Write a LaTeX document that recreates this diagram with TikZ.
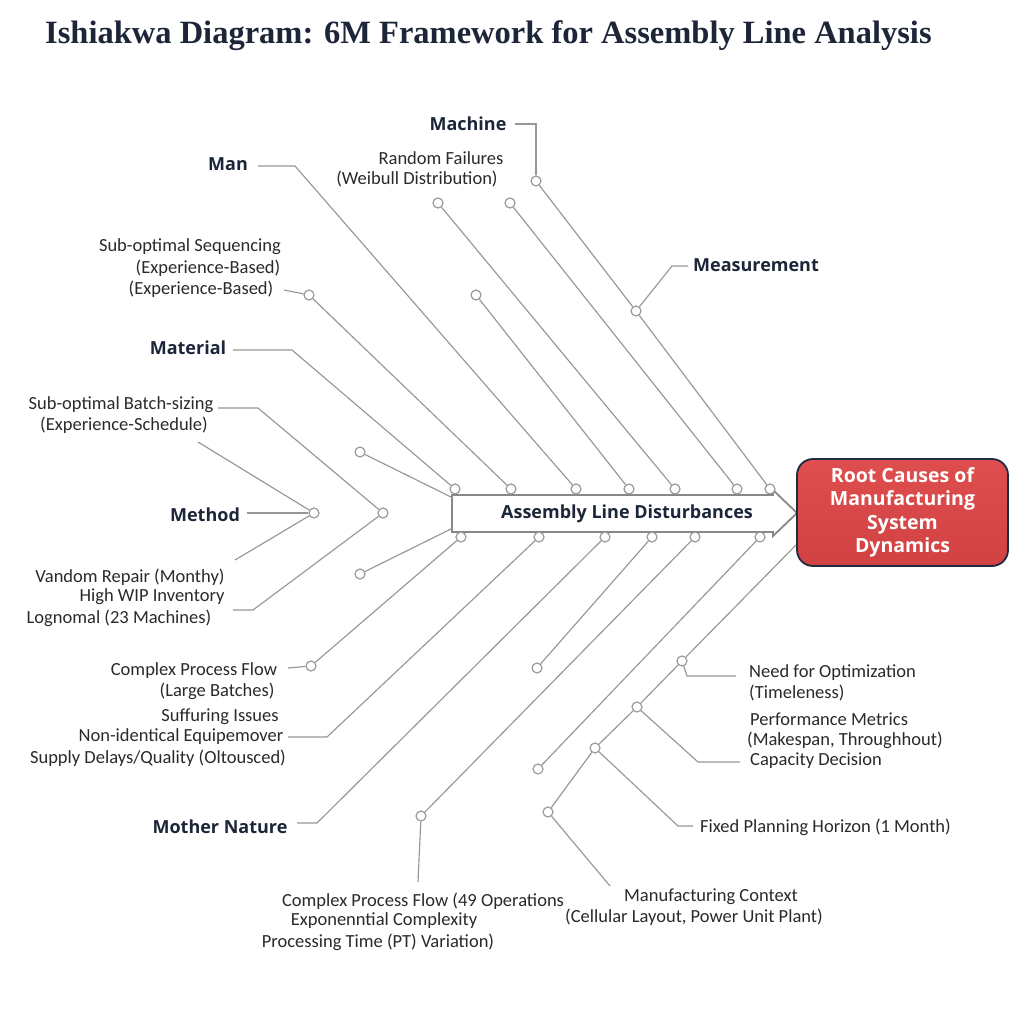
\documentclass[tikz,border=0pt]{standalone}
\usepackage{fontspec}
\setmainfont{Carlito}
\newfontfamily\catf{Open Sans}
\newfontfamily\titlef{Liberation Serif}
\definecolor{navy}{HTML}{1C2638}
\definecolor{lg}{HTML}{979797}
\definecolor{tx}{HTML}{2A2A2A}
\definecolor{redA}{HTML}{DE4E4E}
\definecolor{redB}{HTML}{D24242}
\definecolor{hborder}{HTML}{1E2B45}
\tikzset{
  ln/.style={draw=lg, line width=1.15pt},
  dot/.style={circle, draw=lg, fill=white, line width=1.15pt, inner sep=0pt, minimum size=10pt},
  cat/.style={font=\catf\bfseries\fontsize{18}{21}\selectfont, text=navy, inner sep=0pt},
  sm/.style={font=\fontsize{18.5}{22}\selectfont, text=tx, inner sep=0pt},
  headbox/.style={draw=hborder, line width=1.8pt, rounded corners=16pt, top color=redA, bottom color=redB,
     minimum width=211pt, minimum height=107pt, align=center, text=white,
     font=\catf\bfseries\fontsize{19.5}{23.5}\selectfont, inner sep=0pt},
}
\begin{document}
\begin{tikzpicture}[x=1pt,y=-1pt]
\useasboundingbox[fill=white] (0,0) rectangle (1024,1024);

% title
\node[anchor=west, inner sep=0pt, text=navy, font=\titlef\bfseries\fontsize{32.5}{38}\selectfont] (title) at (45,36) {Ishiakwa Diagram: 6M Framework for Assembly Line Analysis};

% spine arrow
\coordinate (spTL) at (453,498);
\coordinate (spBL) at (453,528);
\coordinate (tip) at (797,513);
\draw[draw=lg!90!black, line width=1.8pt, fill=white, line join=miter]
  (452,495) -- (773,495) -- (773,490) -- (tip) -- (773,536) -- (773,532) -- (452,532) -- cycle;
\node[cat] (spine) at (627,514) {Assembly Line Disturbances};

% head
\node[headbox] (head) at (902.5,512.5) {Root Causes of\\Manufacturing\\System\\Dynamics};

% dots on spine
\foreach \n/\x in {t1/455,t2/511,t3/576,t4/629,t5/675,t6/737,t7/770}
  \node[dot] (\n) at (\x,489) {};
\foreach \n/\x in {b1/461,b2/539,b3/605,b4/652,b5/695,b6/760}
  \node[dot] (\n) at (\x,537) {};

% other dots
\node[dot] (mach) at (536,181) {};
\node[dot] (meas) at (636,311) {};
\node[dot] (u1) at (438,203) {};
\node[dot] (u2) at (510,203) {};
\node[dot] (u3) at (476,295) {};
\node[dot] (seq) at (309,295) {};
\node[dot] (meth) at (314,513) {};
\node[dot] (lv) at (383,513) {};
\node[dot] (lu) at (360,452) {};
\node[dot] (ld) at (360,574) {};
\node[dot] (cpf) at (311,666) {};
\node[dot] (free1) at (537,668) {};
\node[dot] (free2) at (538,769) {};
\node[dot] (c49) at (421,816) {};
\node[dot] (r1) at (682,661) {};
\node[dot] (r2) at (637,707) {};
\node[dot] (r3) at (595,748) {};
\node[dot] (r4) at (548,812) {};

% category labels
\node[cat] (man) at (228,164) {Man};
\node[cat] (machine) at (468,124) {Machine};
\node[cat] (measurement) at (756,265) {Measurement};
\node[cat] (material) at (188,348) {Material};
\node[cat] (method) at (205,515) {Method};
\node[cat] (mother) at (220,827) {Mother Nature};

% small texts
\node[sm] (s1) at (190,247) {Sub-optimal Sequencing};
\node[sm] (s2) at (208,268) {(Experience-Based)};
\node[sm] (s3) at (201,289) {(Experience-Based)};
\node[sm] (rf1) at (441,158) {Random Failures};
\node[sm] (rf2) at (417,179) {(Weibull Distribution)};
\node[sm] (bs1) at (121,405) {Sub-optimal Batch-sizing};
\node[sm] (bs2) at (124,425) {(Experience-Schedule)};
\node[sm] (v1) at (130,577) {Vandom Repair (Monthy)};
\node[sm] (v2) at (152,597) {High WIP Inventory};
\node[sm] (v3) at (119,618) {Lognomal (23 Machines)};
\node[sm] (cp1) at (194,671) {Complex Process Flow};
\node[sm] (cp2) at (217,691) {(Large Batches)};
\node[sm] (sf1) at (220,717) {Suffuring Issues};
\node[sm] (sf2) at (181,737) {Non-identical Equipemover};
\node[sm] (sf3) at (158,758) {Supply Delays/Quality (Oltousced)};
\node[sm] (e1) at (423,901) {Complex Process Flow (49 Operations};
\node[sm] (e2) at (384,921) {Exponenntial Complexity};
\node[sm] (e3) at (378,942) {Processing Time (PT) Variation)};
\node[sm] (mc1) at (711,897) {Manufacturing Context};
\node[sm] (mc2) at (694,917) {(Cellular Layout, Power Unit Plant)};
\node[sm, anchor=west] (n1) at (749,673) {Need for Optimization};
\node[sm, anchor=west] (n2) at (749,693) {(Timeleness)};
\node[sm, anchor=west] (p1) at (750,719) {Performance Metrics};
\node[sm, anchor=west] (p2) at (747,740) {(Makespan, Throughhout)};
\node[sm, anchor=west] (p3) at (750,761) {Capacity Decision};
\node[sm, anchor=west] (fp) at (700,827) {Fixed Planning Horizon (1 Month)};

% connector coordinates
\coordinate (manA) at (258,166);  \coordinate (manB) at (295,166);
\coordinate (machA) at (515,124); \coordinate (machB) at (536,124);
\coordinate (measA) at (688,266); \coordinate (measB) at (672,266);
\coordinate (seqA) at (284,290);
\coordinate (matA) at (233,350);  \coordinate (matB) at (292,350);
\coordinate (batA) at (218,408);  \coordinate (batB) at (258,408);
\coordinate (vA) at (233,610);    \coordinate (vB) at (253,610);
\coordinate (methA) at (247,513);
\coordinate (mU) at (198,442);    \coordinate (mD) at (235,560);
\coordinate (cpfA) at (288,668);
\coordinate (sufA) at (288,737);  \coordinate (sufB) at (327,737);
\coordinate (monA) at (297,823);  \coordinate (monB) at (317,823);
\coordinate (c49A) at (418,882);
\coordinate (chS) at (796,545);
\coordinate (r4A) at (610,886);
\coordinate (r1A) at (687,676);   \coordinate (r1B) at (736,676);
\coordinate (r2A) at (698,762);   \coordinate (r2B) at (740,762);
\coordinate (r3A) at (678,826);   \coordinate (r3B) at (693,826);

% connectors (upper)
\draw[ln] (manA) -- (manB) -- (t3);
\draw[ln] (machA) -- (machB) -- (mach);
\draw[ln] (mach) -- (meas);
\draw[ln] (meas) -- (t7);
\draw[ln] (measA) -- (measB) -- (meas);
\draw[ln] (u1) -- (t5);
\draw[ln] (u2) -- (t6);
\draw[ln] (u3) -- (t4);
\draw[ln] (seqA) -- (seq);
\draw[ln] (seq) -- (t2);
\draw[ln] (matA) -- (matB) -- (t1);
\draw[ln] (lu) -- (spTL);
\draw[ln] (batA) -- (batB) -- (lv);
% left
\draw[ln] (lv) -- (vB) -- (vA);
\draw[ln] (methA) -- (meth);
\draw[ln] (mU) -- (meth);
\draw[ln] (meth) -- (mD);
\draw[ln] (ld) -- (spBL);
% lower
\draw[ln] (cpfA) -- (cpf);
\draw[ln] (cpf) -- (b1);
\draw[ln] (sufA) -- (sufB) -- (b2);
\draw[ln] (monA) -- (monB) -- (b3);
\draw[ln] (b4) -- (free1);
\draw[ln] (b5) -- (c49);
\draw[ln] (c49) -- (c49A);
\draw[ln] (b6) -- (free2);
% chain to the right
\draw[ln] (chS) -- (r1);
\draw[ln] (r1) -- (r2);
\draw[ln] (r2) -- (r3);
\draw[ln] (r3) -- (r4);
\draw[ln] (r4) -- (r4A);
\draw[ln] (r1) -- (r1A) -- (r1B);
\draw[ln] (r2) -- (r2A) -- (r2B);
\draw[ln] (r3) -- (r3A) -- (r3B);
\end{tikzpicture}
\end{document}
